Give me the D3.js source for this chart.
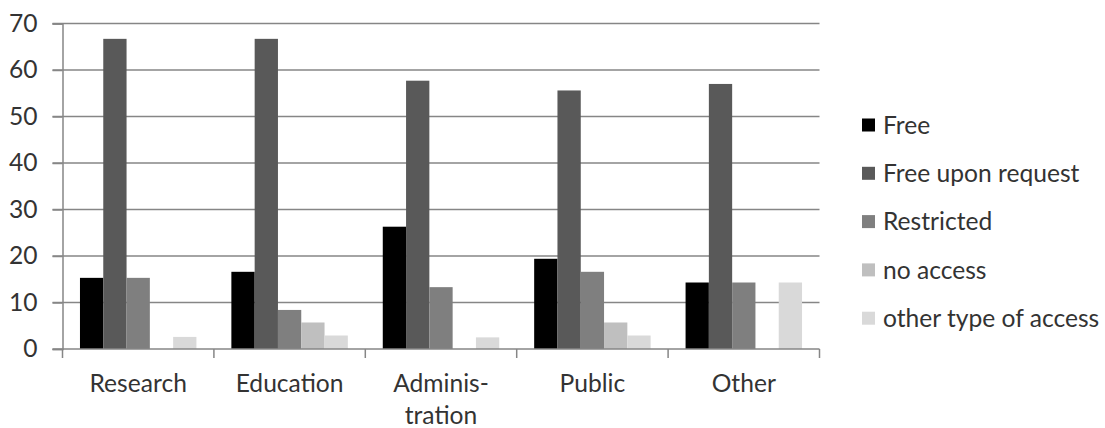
<!DOCTYPE html>
<html>
<head>
<meta charset="utf-8">
<script src="https://cdn.jsdelivr.net/npm/d3@7"></script>
<style>
  html, body { margin: 0; padding: 0; background: #fff; }
  svg { display: block; }
  text { font-family: Lato, "Open Sans", sans-serif; fill: #333333; }
</style>
</head>
<body>
<svg id="chart" width="1105" height="428"></svg>
<script>
const categories = [["Research"], ["Education"], ["Adminis-", "tration"], ["Public"], ["Other"]];
const categoryKeys = ["Research", "Education", "Administration", "Public", "Other"];
const seriesNames = ["Free", "Free upon request", "Restricted", "no access", "other type of access"];
const seriesColors = ["#000000", "#595959", "#7f7f7f", "#bfbfbf", "#d9d9d9"];
const freeValues       = [15.3, 16.6, 26.3, 19.4, 14.3];
const uponRequestValues = [66.7, 66.7, 57.7, 55.6, 57.0];
const restrictedValues = [15.3, 8.4, 13.3, 16.6, 14.3];
const noAccessValues   = [0, 5.7, 0, 5.7, 0];
const otherAccessValues = [2.6, 2.9, 2.5, 2.9, 14.3];
const yTicks = [0, 10, 20, 30, 40, 50, 60, 70];

const seriesValues = [freeValues, uponRequestValues, restrictedValues, noAccessValues, otherAccessValues];

const svg = d3.select("#chart");
const plotLeft = 62.5, plotRight = 819.5, plotTop = 23.5, plotBottom = 349;
const fontSize = 24.6;

const x0 = d3.scaleBand().domain(categoryKeys).range([plotLeft, plotRight]).paddingInner(0).paddingOuter(0);
const pad = x0.bandwidth() * 0.75 / 6.5;
const x1 = d3.scaleBand().domain(seriesNames).range([pad, x0.bandwidth() - pad]).padding(0);
const y = d3.scaleLinear().domain([0, 70]).range([plotBottom, plotTop]);
const color = d3.scaleOrdinal().domain(seriesNames).range(seriesColors);

// gridlines
svg.append("g").selectAll("line").data(yTicks.filter(d => d > 0)).join("line")
  .attr("x1", plotLeft - 10).attr("x2", plotRight)
  .attr("y1", d => y(d)).attr("y2", d => y(d))
  .attr("stroke", "#868686").attr("stroke-width", 1.5);

// y axis
const yAxis = d3.axisLeft(y).tickValues(yTicks).tickSize(10).tickPadding(15).tickFormat(d3.format("d"));
const ya = svg.append("g").attr("transform", `translate(${plotLeft},0)`).call(yAxis);
ya.select(".domain").attr("stroke", "#868686").attr("stroke-width", 1.5);
ya.selectAll(".tick line").attr("stroke", "#868686").attr("stroke-width", 1.5);
ya.selectAll(".tick text").style("font-size", fontSize + "px").attr("fill", "#333333").style("font-family", "Lato");

// bars
const groups = svg.append("g").selectAll("g").data(categoryKeys).join("g")
  .attr("transform", d => `translate(${x0(d)},0)`);
groups.selectAll("rect").data((d, i) => seriesNames.map((s, j) => ({ s, v: seriesValues[j][i] })))
  .join("rect")
  .attr("x", d => x1(d.s)).attr("width", x1.bandwidth())
  .attr("y", d => y(d.v)).attr("height", d => y(0) - y(d.v))
  .attr("fill", d => color(d.s));

// x axis
const xa = svg.append("g").attr("transform", `translate(0,${plotBottom})`);
xa.append("line").attr("x1", plotLeft - 10).attr("x2", plotRight).attr("y1", 0).attr("y2", 0)
  .attr("stroke", "#868686").attr("stroke-width", 1.5);
const xTicks = categoryKeys.map(k => x0(k)).concat([plotRight]);
xa.selectAll("line.t").data(xTicks).join("line").attr("class", "t")
  .attr("x1", d => d).attr("x2", d => d).attr("y1", 0).attr("y2", 9)
  .attr("stroke", "#868686").attr("stroke-width", 1.5);
const labels = xa.selectAll("text").data(categoryKeys).join("text")
  .attr("text-anchor", "middle")
  .attr("x", d => x0(d) + x0.bandwidth() / 2)
  .style("font-size", fontSize + "px");
labels.each(function(d, i) {
  const lines = categories[i];
  d3.select(this).selectAll("tspan").data(lines).join("tspan")
    .attr("x", x0(d) + x0.bandwidth() / 2)
    .attr("y", (l, k) => 43 + k * 32)
    .text(l => l);
});

// legend
const legend = svg.append("g").attr("transform", "translate(862,125)");
const li = legend.selectAll("g").data(seriesNames).join("g")
  .attr("transform", (d, i) => `translate(0,${i * 48.3})`);
li.append("rect").attr("x", 0).attr("y", -6.5).attr("width", 13).attr("height", 13).attr("fill", d => color(d));
li.append("text").attr("x", 21).attr("y", 0).attr("dy", "0.35em").style("font-size", fontSize + "px").text(d => d);
</script>
</body>
</html>
